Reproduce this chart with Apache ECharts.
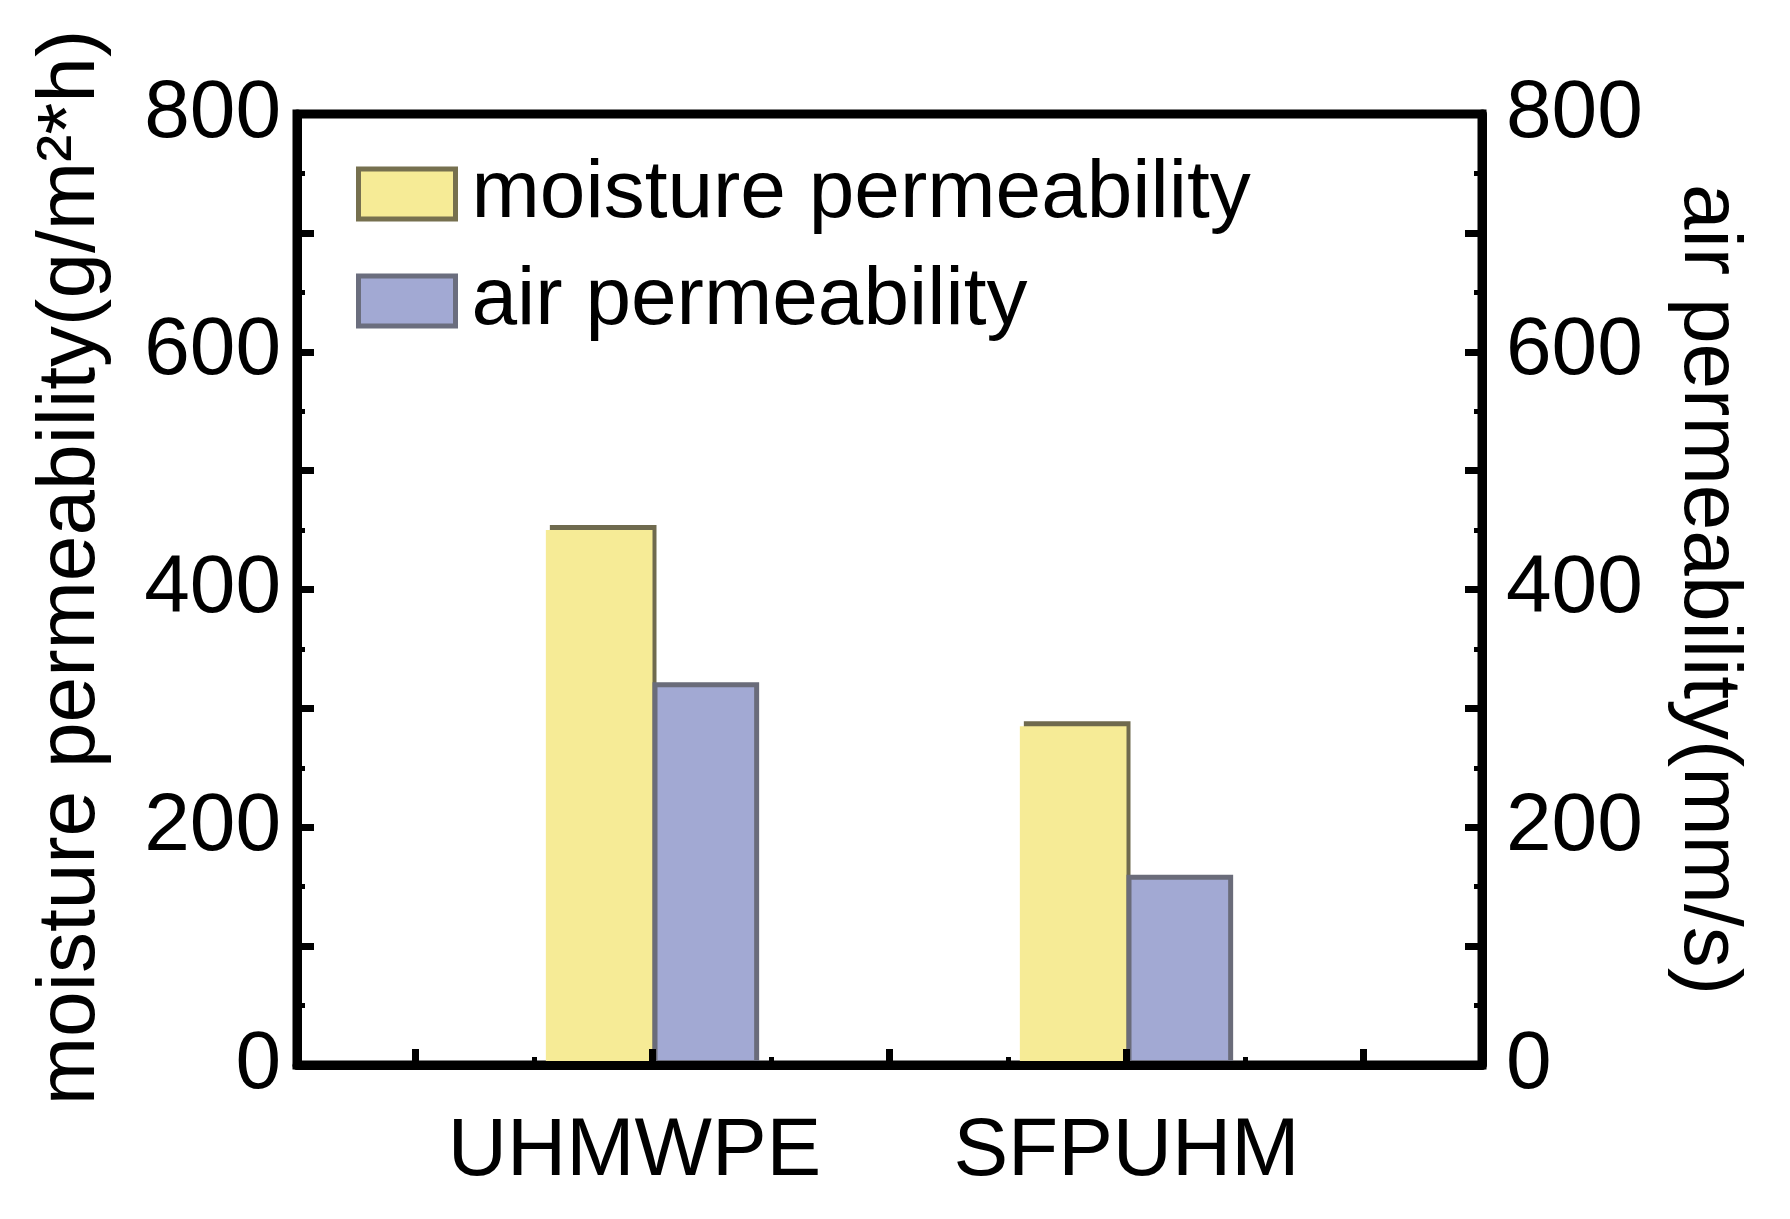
<!DOCTYPE html>
<html>
<head>
<meta charset="utf-8">
<script src="https://cdn.jsdelivr.net/npm/echarts@6/dist/echarts.min.js"></script>
<style>
html,body{margin:0;padding:0;background:#fff;}
#main{width:1790px;height:1219px;}
</style>
</head>
<body>
<div id="main"></div>
<script>
// data
var samples=['UHMWPE','SFPUHM'];
var moisture=[450,285];   // g/m2*h, left axis
var air=[322,160];        // mm/s, right axis
var yTicks=[0,200,400,600,800];

// one empty slot on each side of every sample, like the original plot
var slots=['','UHMWPE','','SFPUHM',''];
function toSlots(vals){
    return slots.map(function(s){
        var i=samples.indexOf(s);
        return i<0?'-':vals[i];
    });
}

var font='Liberation Sans';
var fs=82;
var lw=9;

var Myecharts=echarts.init(document.getElementById('main'));
function yAxisCfg(pos,name,rot,pad){
    return {
        type:'value',
        position:pos,
        min:0,max:800,interval:100,
        name:name,
        nameLocation:'middle',
        nameRotate:rot,
        nameGap:185,
        nameTextStyle:{fontFamily:font,fontSize:fs,color:'#000',padding:pad},
        axisLine:{show:true,lineStyle:{color:'#000',width:lw}},
        axisTick:{show:true,inside:true,length:17,lineStyle:{color:'#000',width:7}},
        minorTick:{show:true,splitNumber:2,length:8,lineStyle:{color:'#000',width:5}},
        splitLine:{show:false},
        axisLabel:{
            fontFamily:font,fontSize:fs,color:'#000',
            margin:pos=='left'?16:24,
            formatter:function(v){return yTicks.indexOf(v)>=0?String(v):'';}
        },
        z:3
    };
}
// x labels: the first one sits a little left of its slot in the original
var xLabels=slots.map(function(s){
    return s=='UHMWPE'?{value:s,textStyle:{padding:[0,36,0,0]}}:s;
});
var option={
    backgroundColor:'#fff',
    animation:false,
    grid:{left:297,right:308,top:114,bottom:154,show:true,borderColor:'#000',borderWidth:lw,backgroundColor:'transparent'},
    legend:{
        orient:'vertical',
        left:351,top:148,
        itemWidth:97,itemHeight:50,itemGap:25,
        textStyle:{fontFamily:font,fontSize:fs,color:'#000',padding:[0,0,0,11]},
        data:[
            {name:'moisture permeability',icon:'rect',itemStyle:{color:'#f6eb96',borderColor:'#76704f',borderWidth:5,shadowOffsetX:0,shadowOffsetY:0,shadowColor:'transparent'}},
            {name:'air permeability',icon:'rect',itemStyle:{color:'#a2a9d3',borderColor:'#6b6e7e',borderWidth:5}}
        ]
    },
    xAxis:[{
        type:'category',
        data:xLabels,
        boundaryGap:true,
        axisLine:{show:true,lineStyle:{color:'#000',width:lw}},
        axisTick:{show:true,inside:true,alignWithLabel:true,interval:0,length:16,lineStyle:{color:'#000',width:7}},
        axisLabel:{interval:0,fontFamily:font,fontSize:fs,color:'#000',margin:46},
        splitLine:{show:false},
        z:3
    },{
        // minor ticks between the slots
        type:'category',
        data:slots,
        position:'bottom',
        boundaryGap:true,
        axisLine:{show:false},
        axisTick:{show:true,inside:true,interval:0,length:8,lineStyle:{color:'#000',width:5}},
        axisLabel:{show:false},
        splitLine:{show:false},
        z:3
    }],
    yAxis:[
        yAxisCfg('left','moisture permeability(g/m²*h)',90,[0,0,0,44]),
        yAxisCfg('right','air permeability(mm/s)',-90,[0,0,0,0])
    ],
    series:[{
        name:'moisture permeability',
        type:'bar',
        yAxisIndex:0,
        data:toSlots(moisture),
        barWidth:'45%',
        barGap:'0%',
        itemStyle:{
            color:'#f6eb96',
            shadowColor:'#6f6a4e',
            shadowBlur:0,
            shadowOffsetX:4,
            shadowOffsetY:-5
        }
    },{
        name:'air permeability',
        type:'bar',
        yAxisIndex:1,
        data:toSlots(air),
        barWidth:'45%',
        barGap:'0%',
        itemStyle:{
            color:'#a2a9d3',
            borderColor:'#6a6c7a',
            borderWidth:5
        }
    }]
};
Myecharts.setOption(option);
</script>
</body>
</html>
